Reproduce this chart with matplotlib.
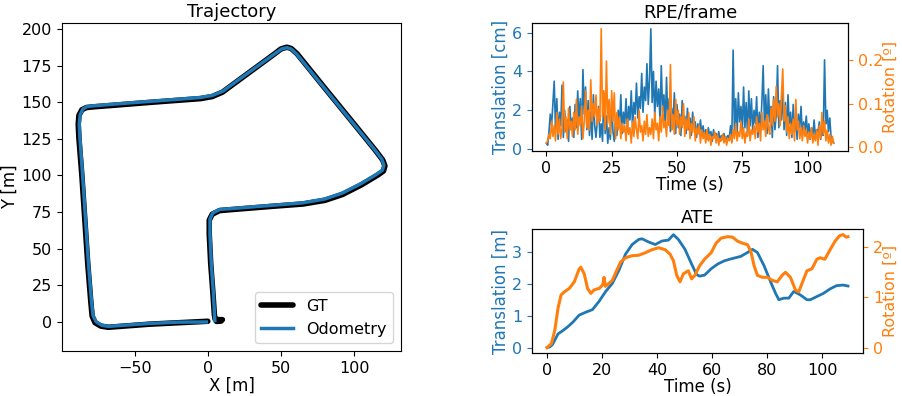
import numpy as np
import matplotlib
matplotlib.use("Agg")
import matplotlib.pyplot as plt

plt.rcParams["font.size"] = 12
plt.rcParams["xtick.labelsize"] = 11.5
plt.rcParams["ytick.labelsize"] = 11.5
plt.rcParams["axes.titlesize"] = 13
plt.rcParams["legend.fontsize"] = 11.5

# trajectory (m)
gt_x = [0, -20, -40, -60, -68, -73, -77, -79, -80, -82, -84, -86, -88, -88.5, -88, -86, -83, -78,
        -60, -40, -20, -5, 3, 10, 15, 30, 45, 50, 54, 57, 61, 80, 100, 115, 119.5, 121, 120, 116,
        105, 92, 80, 65, 45, 20, 8, 3, 1, 1, 2, 3.5, 4.5, 5, 7, 10, 9, 6]
gt_y = [0.5, -0.5, -1.5, -3.0, -3.6, -2.8, -0.5, 4, 15, 40, 70, 100, 125, 135, 141, 144.8, 146.3, 146.8,
        148.2, 149.8, 151.3, 152.4, 153.8, 156.8, 160.5, 171.5, 182.5, 186.3, 187.5, 186.6, 183, 159.5, 135,
        116.5, 110.5, 106.5, 103, 100.2, 93.6, 87, 83, 80.5, 79, 77, 76, 73.5, 69.5, 60, 40, 20, 5, 2, 1.6,
        1.6, 0.6, 0.4]
odo_x = [-1, -20, -40, -60, -68, -72.5, -76.3, -78.4, -79.5, -81.5, -83.5, -85.5, -87.3, -87.8, -87.2,
         -85.3, -82.5, -78, -60, -40, -20, -5, 3.2, 10.3, 15.4, 30.4, 45.3, 50.2, 54, 57, 60.8, 79.8, 99.6,
         114.6, 118.9, 120.3, 119.3, 115.5, 104.6, 91.7, 79.8, 64.9, 45, 20, 8.2, 3.4, 1.5, 1.5, 2.4, 3.8,
         4.6, 4.8]
odo_y = [0.0, -0.1, -1.0, -2.4, -3.0, -2.2, 0.2, 4.5, 15, 40, 70, 100, 125, 135, 141.3, 145.3, 147.0,
         147.5, 149, 150.5, 152, 153.2, 154.6, 157.5, 161.2, 172, 182.7, 186.2, 187.2, 186.2, 182.7, 159.4,
         135.2, 116.8, 111, 107, 103.6, 100.9, 94.4, 87.9, 83.9, 81.3, 79.7, 77.7, 76.8, 74.4, 70.2, 60, 40,
         20, 5, 1]

# RPE per frame, sampled every 0.5 s
rpe_trans = [
    0.3, 0.2, 0.9, 1.8, 1.2, 2.4, 3.5, 1.0, 2.6, 0.5, 1.9, 1.2, 3.3, 0.6, 2.0, 0.9, 1.5, 0.4, 2.2, 1.0,
    1.6, 0.6, 2.3, 1.1, 3.0, 1.4, 2.6, 0.5, 4.1, 1.8, 3.2, 1.0, 2.5, 0.7, 1.9, 0.5, 2.8, 1.2, 0.6, 1.5,
    2.2, 0.6, 1.3, 0.4, 2.9, 0.8, 1.7, 0.3, 1.1, 0.5, 2.4, 0.9, 0.4, 1.6, 0.7, 2.0, 1.2, 2.8, 0.8, 1.9,
    1.3, 2.6, 0.9, 2.2, 1.5, 3.0, 1.1, 2.4, 1.8, 3.4, 1.6, 2.7, 2.1, 3.9, 1.9, 3.2, 2.5, 4.4, 2.3, 3.6,
    6.2, 2.4, 4.0, 1.7, 3.5, 2.2, 3.1, 1.5, 4.3, 1.9, 2.8, 1.2, 3.7, 1.4, 2.6, 0.9, 2.1, 1.3, 2.9, 0.8,
    2.3, 1.1, 1.8, 0.7, 2.5, 1.3, 1.7, 0.8, 2.1, 1.0, 1.6, 0.7, 1.9, 1.1, 1.4, 0.6, 1.3, 0.9, 1.5, 0.7,
    1.2, 0.6, 1.0, 0.5, 1.1, 0.7, 0.9, 0.4, 1.0, 0.6, 0.8, 0.5, 0.9, 0.4, 0.7, 0.5, 0.8, 0.4, 0.6, 0.7,
    0.5, 1.2, 0.4, 5.1, 0.8, 2.6, 0.6, 2.9, 1.4, 2.2, 0.9, 3.2, 1.1, 2.4, 0.7, 3.0, 1.2, 2.6, 0.9, 2.0,
    1.3, 2.7, 0.6, 1.9, 1.0, 2.4, 4.3, 1.2, 2.8, 0.8, 3.1, 1.4, 2.2, 0.6, 2.7, 1.0, 1.8, 4.3, 1.1, 2.5,
    1.5, 3.0, 1.0, 2.4, 0.7, 2.8, 1.3, 1.9, 0.6, 2.3, 0.9, 1.6, 0.5, 1.8, 1.1, 2.2, 0.7, 1.4, 0.9, 1.7,
    0.8, 1.3, 0.5, 1.1, 0.7, 1.5, 0.6, 1.0, 0.9, 1.4, 0.5, 1.2, 0.7, 4.6, 1.3, 2.0, 0.9, 1.6, 0.6, 0.4,
    0.3]
rpe_rot = [
    0.010, 0.015, 0.030, 0.020, 0.060, 0.025, 0.050, 0.015, 0.080, 0.030, 0.065, 0.020, 0.045, 0.150, 0.035, 0.070, 0.020, 0.090, 0.040, 0.060,
    0.025, 0.080, 0.040, 0.110, 0.030, 0.070, 0.050, 0.095, 0.020, 0.060, 0.130, 0.045, 0.085, 0.040, 0.155, 0.060, 0.100, 0.070, 0.120, 0.050,
    0.090, 0.060, 0.272, 0.070, 0.130, 0.040, 0.198, 0.055, 0.110, 0.030, 0.130, 0.060, 0.125, 0.020, 0.080, 0.040, 0.070, 0.020, 0.055, 0.035,
    0.050, 0.015, 0.065, 0.030, 0.045, 0.010, 0.060, 0.025, 0.070, 0.040, 0.020, 0.085, 0.035, 0.050, 0.015, 0.060, 0.030, 0.075, 0.025, 0.045,
    0.030, 0.065, 0.020, 0.080, 0.040, 0.055, 0.015, 0.070, 0.035, 0.095, 0.045, 0.060, 0.025, 0.085, 0.050, 0.190, 0.040, 0.075, 0.030, 0.110,
    0.050, 0.085, 0.030, 0.070, 0.045, 0.100, 0.025, 0.065, 0.040, 0.080, 0.020, 0.055, 0.035, 0.070, 0.015, 0.045, 0.030, 0.050, 0.010, 0.040,
    0.020, 0.035, 0.010, 0.040, 0.015, 0.030, 0.005, 0.025, 0.020, 0.035, 0.010, 0.030, 0.005, 0.020, 0.015, 0.030, 0.010, 0.025, 0.005, 0.020,
    0.015, 0.030, 0.010, 0.040, 0.020, 0.055, 0.015, 0.035, 0.025, 0.060, 0.020, 0.045, 0.010, 0.035, 0.025, 0.065, 0.015, 0.040, 0.030, 0.050,
    0.020, 0.070, 0.035, 0.055, 0.015, 0.080, 0.040, 0.060, 0.025, 0.075, 0.045, 0.030, 0.090, 0.050, 0.110, 0.060, 0.140, 0.070, 0.100, 0.050,
    0.120, 0.180, 0.060, 0.095, 0.035, 0.070, 0.020, 0.055, 0.030, 0.065, 0.015, 0.110, 0.040, 0.060, 0.020, 0.045, 0.015, 0.050, 0.025, 0.040,
    0.010, 0.035, 0.020, 0.045, 0.010, 0.030, 0.015, 0.040, 0.005, 0.050, 0.020, 0.080, 0.030, 0.060, 0.015, 0.040, 0.010, 0.030, 0.005, 0.025,
    0.010]
rpe_t = np.arange(len(rpe_trans)) * 0.5

# ATE
ate_t_trans = [0, 1, 2, 4, 5.7, 7.5, 9.3, 11.7, 14.1, 16.5, 18.9, 21.3, 23.7, 26.1, 28.5, 30.9, 33.3, 34.5,
               36.9, 39.3, 41.7, 44.1, 45.9, 47.7, 50.1, 52.5, 54.3, 55.4, 57.2, 59.6, 62, 64.4, 66.8, 70.4,
               72.8, 74.6, 76.4, 78.8, 81.2, 83, 84.2, 86, 87.8, 89.6, 92, 94.4, 95.6, 98, 100.4, 102.8,
               105.1, 107.5, 109.3]
ate_trans = [0, 0.02, 0.1, 0.43, 0.53, 0.65, 0.79, 1.02, 1.11, 1.19, 1.45, 1.76, 2.01, 2.42, 2.93, 3.23,
             3.39, 3.41, 3.31, 3.23, 3.34, 3.37, 3.54, 3.39, 3.08, 2.62, 2.29, 2.24, 2.27, 2.47, 2.62, 2.72,
             2.78, 2.86, 2.98, 3.08, 2.98, 2.57, 2.06, 1.70, 1.50, 1.55, 1.55, 1.76, 1.65, 1.50, 1.50, 1.60,
             1.70, 1.84, 1.94, 1.96, 1.93]
ate_t_rot = [0, 1.6, 2.8, 4, 5.1, 6.3, 8.1, 9.9, 11.7, 12.3, 13.5, 14.7, 15.9, 17.1, 19, 20.2, 20.7, 21.2,
             22.5, 23.7, 25, 26.7, 28.5, 30.9, 33.3, 35.7, 38.1, 40.5, 42.9, 44.7, 45.9, 47.1, 48.3, 49.5,
             51.3, 52.5, 53.7, 55.4, 57.2, 59.6, 61.4, 63.2, 65.6, 67.4, 69.2, 71, 72.8, 74, 75.2, 76.4,
             78.2, 80, 81.8, 83.6, 85.4, 86.6, 88.4, 90.2, 91.4, 92.6, 94.4, 96.2, 98, 99.2, 100.9, 102.8,
             104.6, 106.3, 107.5, 108.7, 109.3]
ate_rot = [0, 0.08, 0.34, 0.79, 1.05, 1.11, 1.18, 1.31, 1.57, 1.60, 1.47, 1.18, 1.08, 1.15, 1.18, 1.25,
           1.40, 1.22, 1.28, 1.34, 1.5, 1.70, 1.79, 1.83, 1.84, 1.89, 1.95, 1.99, 1.95, 1.86, 1.73, 1.44,
           1.31, 1.47, 1.53, 1.37, 1.44, 1.63, 1.76, 1.89, 2.08, 2.18, 2.21, 2.20, 2.12, 2.08, 2.05, 1.92,
           1.63, 1.44, 1.40, 1.40, 1.34, 1.31, 1.44, 1.5, 1.40, 1.15, 1.11, 1.28, 1.53, 1.57, 1.76, 1.79,
           1.76, 1.95, 2.12, 2.23, 2.25, 2.20, 2.21]
ate_time_ticks = [0, 20, 40, 60, 80, 100]
ate_trans_ticks = [0, 1, 2, 3]
ate_rot_ticks = [0, 1, 2]

fig = plt.figure(figsize=(9.02, 3.96), dpi=100)

# trajectory
ax = fig.add_axes([0.0687, 0.1136, 0.3759, 0.8283])
ax.plot(gt_x, gt_y, color="black", lw=4, label="GT", solid_joinstyle="round", solid_capstyle="round")
ax.plot(odo_x, odo_y, color="C0", lw=2.5, label="Odometry", solid_joinstyle="round")
ax.set_xlim(-99.6, 132)
ax.set_ylim(-19.8, 204)
ax.set_title("Trajectory", pad=4)
ax.set_xlabel("X [m]", labelpad=1)
ax.set_ylabel("Y [m]", labelpad=2)
ax.legend(loc="lower right")

# RPE
ax_r = fig.add_axes([0.5898, 0.6187, 0.3504, 0.3232])
ax_r.plot(rpe_t, rpe_trans, color="C0", lw=1.2)
ax_r.set_ylabel("Translation [cm]", color="C0", labelpad=2)
ax_r.tick_params(axis="y", colors="C0")
ax_r.set_xlabel("Time (s)", labelpad=0)
ax_r.set_title("RPE/frame", pad=4)
ax_r2 = ax_r.twinx()
ax_r2.plot(rpe_t, rpe_rot, color="C1", lw=1.2)
ax_r2.set_ylabel("Rotation [º]", color="C1", labelpad=0, fontsize=11.5)
ax_r2.tick_params(axis="y", colors="C1")
ax_r2.set_yticks([0.0, 0.1, 0.2])

# ATE
ax_a = fig.add_axes([0.5898, 0.108, 0.367, 0.3137])
ax_a.plot(ate_t_trans, ate_trans, color="C0", lw=2)
ax_a.set_xticks(ate_time_ticks)
ax_a.set_yticks(ate_trans_ticks)
ax_a.set_ylabel("Translation [m]", color="C0", labelpad=2)
ax_a.tick_params(axis="y", colors="C0")
ax_a.set_xlabel("Time (s)", labelpad=0)
ax_a.set_title("ATE", pad=4)
ax_a2 = ax_a.twinx()
ax_a2.plot(ate_t_rot, ate_rot, color="C1", lw=2.2)
ax_a2.set_yticks(ate_rot_ticks)
ax_a2.set_ylabel("Rotation [º]", color="C1", labelpad=0, fontsize=11.5)
ax_a2.tick_params(axis="y", colors="C1")

fig.savefig("out.png", dpi=100)
